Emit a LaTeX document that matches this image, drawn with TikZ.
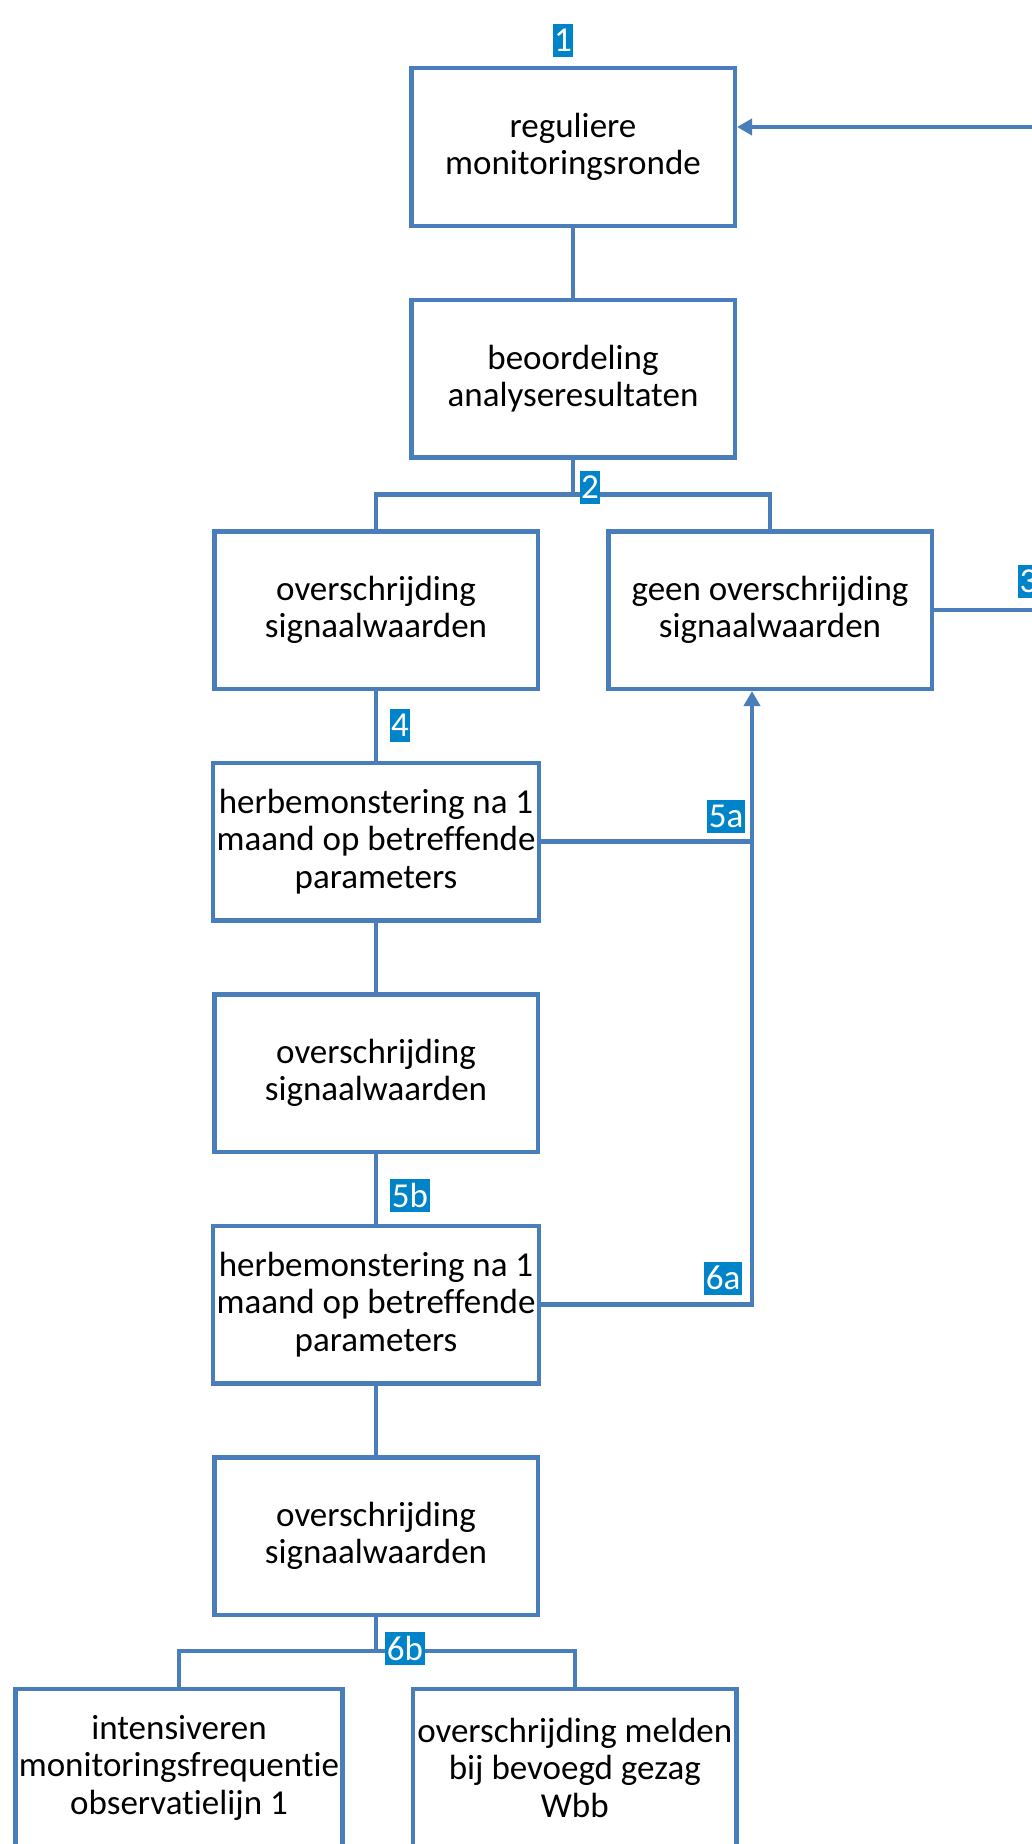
\documentclass[tikz,border=0pt]{standalone}
\usepackage{fontspec}
\setmainfont[Ligatures={NoCommon}]{Carlito}
\usetikzlibrary{positioning,arrows.meta}
\definecolor{lineblue}{RGB}{74,126,187}
\definecolor{tagblue}{RGB}{0,132,201}
\tikzset{
  stepbox/.style = {shape=rectangle, draw=lineblue, line width=4.5pt,
                    minimum width=323.5pt, minimum height=157.5pt,
                    align=center, font=\fontsize{35}{37.5}\selectfont},
  numtag/.style  = {fill=tagblue, text=white, inner sep=1.5pt,
                    minimum height=33pt, font=\fontsize{35}{37.5}\selectfont},
  link/.style    = {draw=lineblue, line width=4.5pt},
  arrowlink/.style = {link, -{Triangle[length=15pt,width=16pt]}}
}

\begin{document}
\begin{tikzpicture}[node distance=69.5pt]
  \useasboundingbox (0,0) rectangle (1032pt,-1844pt);

  \node[stepbox] (rond) at (573pt,-147pt) {reguliere\\monitoringsronde};
  \node[stepbox, below=of rond] (beoord) {beoordeling\\analyseresultaten};
  \node[stepbox, below=of beoord, xshift=-197pt] (overs1) {overschrijding\\signaalwaarden};
  \node[stepbox, right=66pt of overs1] (geen) {geen overschrijding\\signaalwaarden};
  \node[stepbox, below=of overs1] (herb1) {herbemonstering na 1\\maand op betreffende\\parameters};
  \node[stepbox, below=of herb1] (overs2) {overschrijding\\signaalwaarden};
  \node[stepbox, below=of overs2] (herb2) {herbemonstering na 1\\maand op betreffende\\parameters};
  \node[stepbox, below=of herb2] (overs3) {overschrijding\\signaalwaarden};
  \node[stepbox, below=of overs3, xshift=-197pt] (intens) {intensiveren\\monitoringsfrequentie\\observatielijn 1};
  \node[stepbox, right=66pt of intens] (melden) {overschrijding melden\\bij bevoegd gezag\\Wbb};

  \coordinate (back) at (1040pt,-127pt);
  \coordinate (rail) at (752pt,0);

  \draw[arrowlink] (back) -- (back -| rond.east);
  \draw[link] (rond) -- (beoord);
  \draw[link] (beoord.south) -- ++(0,-35pt) coordinate (split1) -| (overs1.north);
  \draw[link] (split1) -| (geen.north);
  \draw[link] (geen.east) -- (geen.east -| back);
  \draw[link] (overs1) -- (herb1);
  \draw[link] (herb1) -- (overs2);
  \draw[link] (overs2) -- (herb2);
  \draw[link] (herb2) -- (overs3);
  \draw[link] (herb1.east) -- (herb1.east -| rail);
  \draw[arrowlink] (herb2.east) -- (herb2.east -| rail) -- (rail |- geen.south);
  \draw[link] (overs3.south) -- ++(0,-34pt) coordinate (split2) -| (intens.north);
  \draw[link] (split2) -| (melden.north);

  \node[numtag] (t1)  at (563pt,-40.5pt) {1};
  \node[numtag] (t2)  at (590pt,-487pt)  {2};
  \node[numtag] (t3)  at (1028.5pt,-581pt) {3};
  \node[numtag] (t4)  at (400pt,-725pt)  {4};
  \node[numtag] (t5a) at (726pt,-816pt)  {5a};
  \node[numtag] (t5b) at (410pt,-1195pt) {5b};
  \node[numtag] (t6a) at (723pt,-1278pt) {6a};
  \node[numtag] (t6b) at (405pt,-1648pt) {6b};
\end{tikzpicture}
\end{document}
